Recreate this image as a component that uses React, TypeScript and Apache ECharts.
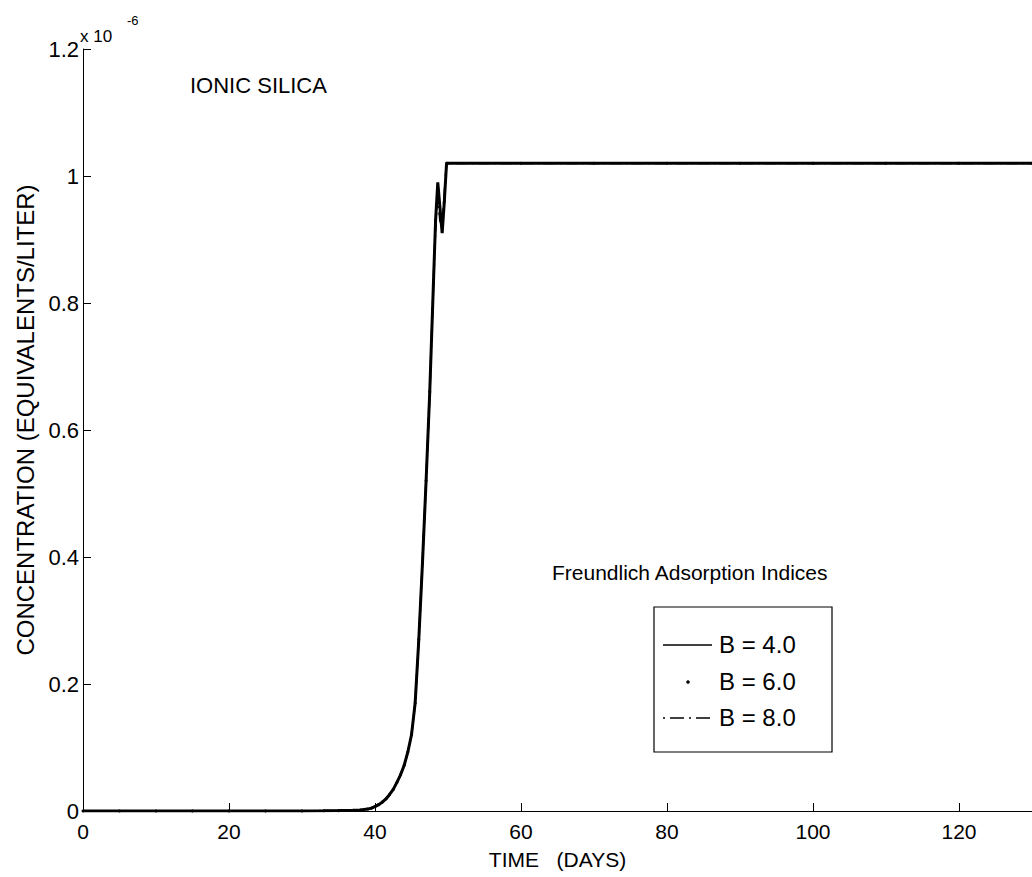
import React, { useEffect, useRef } from "react";
import * as echarts from "echarts";

// Time in days
const timeDays = [
  0, 5, 10, 15, 20, 25, 30, 33, 35, 37, 38, 39, 39.5, 40, 40.5, 41, 41.5, 42,
  42.5, 43, 43.5, 44, 44.5, 45, 45.5, 46, 46.5, 47, 47.5, 48, 48.3, 48.6, 48.9,
  49.2, 49.5, 49.8, 50, 60, 70, 80, 90, 100, 110, 120, 130,
];

// Concentration (x 10^-6 equivalents/liter)
const b4Values = [
  0, 0, 0, 0, 0, 0, 0, 0.0003, 0.0006, 0.001, 0.0015, 0.003, 0.0045, 0.007,
  0.01, 0.014, 0.019, 0.026, 0.034, 0.045, 0.057, 0.072, 0.093, 0.12, 0.17,
  0.27, 0.39, 0.52, 0.66, 0.83, 0.93, 0.99, 0.95, 0.91, 0.96, 1.02, 1.02, 1.02,
  1.02, 1.02, 1.02, 1.02, 1.02, 1.02, 1.02,
];
const b6Values = [
  0, 0, 0, 0, 0, 0, 0, 0.0003, 0.0006, 0.001, 0.0015, 0.003, 0.0045, 0.007,
  0.01, 0.014, 0.019, 0.026, 0.034, 0.045, 0.057, 0.072, 0.093, 0.12, 0.17,
  0.27, 0.39, 0.52, 0.66, 0.83, 0.93, 0.98, 0.94, 0.92, 0.96, 1.02, 1.02, 1.02,
  1.02, 1.02, 1.02, 1.02, 1.02, 1.02, 1.02,
];
const b8Values = [
  0, 0, 0, 0, 0, 0, 0, 0.0003, 0.0006, 0.001, 0.0015, 0.003, 0.0045, 0.007,
  0.01, 0.014, 0.019, 0.026, 0.034, 0.045, 0.057, 0.072, 0.093, 0.12, 0.17,
  0.27, 0.39, 0.52, 0.66, 0.83, 0.92, 0.98, 0.93, 0.92, 0.97, 1.02, 1.02, 1.02,
  1.02, 1.02, 1.02, 1.02, 1.02, 1.02, 1.02,
];

const seriesNames = ["B = 4.0", "B = 6.0", "B = 8.0"];
const xTickStep = 20;
const yTickStep = 0.2;

const FONT = "'Liberation Sans', Arial, Helvetica, sans-serif";

const pairs = (vals: number[]) => timeDays.map((t, i) => [t, vals[i]]);

export default function App() {
  const ref = useRef<HTMLDivElement>(null);

  useEffect(() => {
    document.body.style.margin = "0";
    const chart = echarts.init(ref.current!, null, { renderer: "svg" });

    const legendX = 654;
    const legendY = 607;
    const rowY = [645, 682, 718];

    const option: any = {
      animation: false,
      backgroundColor: "#ffffff",
      textStyle: { fontFamily: FONT, color: "#000" },
      grid: { left: 83, top: 49, width: 953, height: 762 },
      xAxis: {
        type: "value",
        min: 0,
        max: 130,
        interval: xTickStep,
        name: "TIME   (DAYS)",
        nameLocation: "middle",
        nameGap: 38,
        nameTextStyle: { fontSize: 21, color: "#000", fontFamily: FONT },
        axisLine: { show: true, lineStyle: { color: "#000", width: 1 } },
        axisTick: { show: true, inside: true, length: 8, lineStyle: { color: "#000" } },
        axisLabel: {
          fontSize: 21,
          color: "#000",
          margin: 10,
          showMaxLabel: false,
          fontFamily: FONT,
        },
        splitLine: { show: false },
      },
      yAxis: {
        type: "value",
        min: 0,
        max: 1.2,
        interval: yTickStep,
        name: "CONCENTRATION (EQUIVALENTS/LITER)",
        nameLocation: "middle",
        nameGap: 38,
        nameRotate: 90,
        nameTextStyle: {
          fontSize: 24,
          color: "#000",
          fontFamily: FONT,
          padding: [0, 0, 0, 20],
        },
        axisLine: { show: true, lineStyle: { color: "#000", width: 1 } },
        axisTick: { show: true, inside: true, length: 8, lineStyle: { color: "#000" } },
        axisLabel: {
          fontSize: 22,
          color: "#000",
          margin: 4,
          fontFamily: FONT,
          formatter: (v: number) => String(Number(v.toFixed(1))),
        },
        splitLine: { show: false },
      },
      series: [
        {
          name: seriesNames[0],
          type: "line",
          data: pairs(b4Values),
          showSymbol: false,
          lineStyle: { color: "#000", width: 3 },
          z: 3,
        },
        {
          name: seriesNames[1],
          type: "line",
          data: pairs(b6Values),
          showSymbol: true,
          symbol: "circle",
          symbolSize: 3,
          itemStyle: { color: "#000" },
          lineStyle: { color: "#000", width: 1.5, type: [1, 3] },
          z: 4,
        },
        {
          name: seriesNames[2],
          type: "line",
          data: pairs(b8Values),
          showSymbol: false,
          lineStyle: { color: "#000", width: 2, type: [12, 4, 2, 4] },
          z: 5,
        },
      ],
      graphic: [
        {
          type: "text",
          left: 80,
          top: 28,
          style: { text: "x 10", fill: "#000", font: `17px ${FONT}` },
        },
        {
          type: "text",
          left: 127,
          top: 14,
          style: { text: "-6", fill: "#000", font: `13px ${FONT}` },
        },
        {
          type: "text",
          left: 190,
          top: 74,
          style: { text: "IONIC SILICA", fill: "#000", font: `22px ${FONT}` },
        },
        {
          type: "text",
          left: 552,
          top: 562,
          style: { text: "Freundlich Adsorption Indices", fill: "#000", font: `21px ${FONT}` },
        },
        {
          type: "rect",
          shape: { x: legendX, y: legendY, width: 178, height: 145 },
          style: { fill: "#fff", stroke: "#000", lineWidth: 1.2 },
          z: 10,
        },
        {
          type: "line",
          shape: { x1: 663, y1: rowY[0], x2: 712, y2: rowY[0] },
          style: { stroke: "#000", lineWidth: 1.5 },
          z: 11,
        },
        {
          type: "circle",
          shape: { cx: 688, cy: rowY[1], r: 1.8 },
          style: { fill: "#000" },
          z: 11,
        },
        {
          type: "line",
          shape: { x1: 663, y1: rowY[2], x2: 712, y2: rowY[2] },
          style: { stroke: "#000", lineWidth: 1.5, lineDash: [2, 5, 14, 5] },
          z: 11,
        },
        ...seriesNames.map((n, i) => ({
          type: "text",
          left: 719,
          top: rowY[i] - 13,
          style: { text: n, fill: "#000", font: `24px ${FONT}` },
          z: 11,
        })),
      ],
    };

    chart.setOption(option);
    return () => chart.dispose();
  }, []);

  return (
    <div
      ref={ref}
      style={{ width: 1032, height: 877, background: "#fff", position: "absolute", left: 0, top: 0 }}
    />
  );
}
